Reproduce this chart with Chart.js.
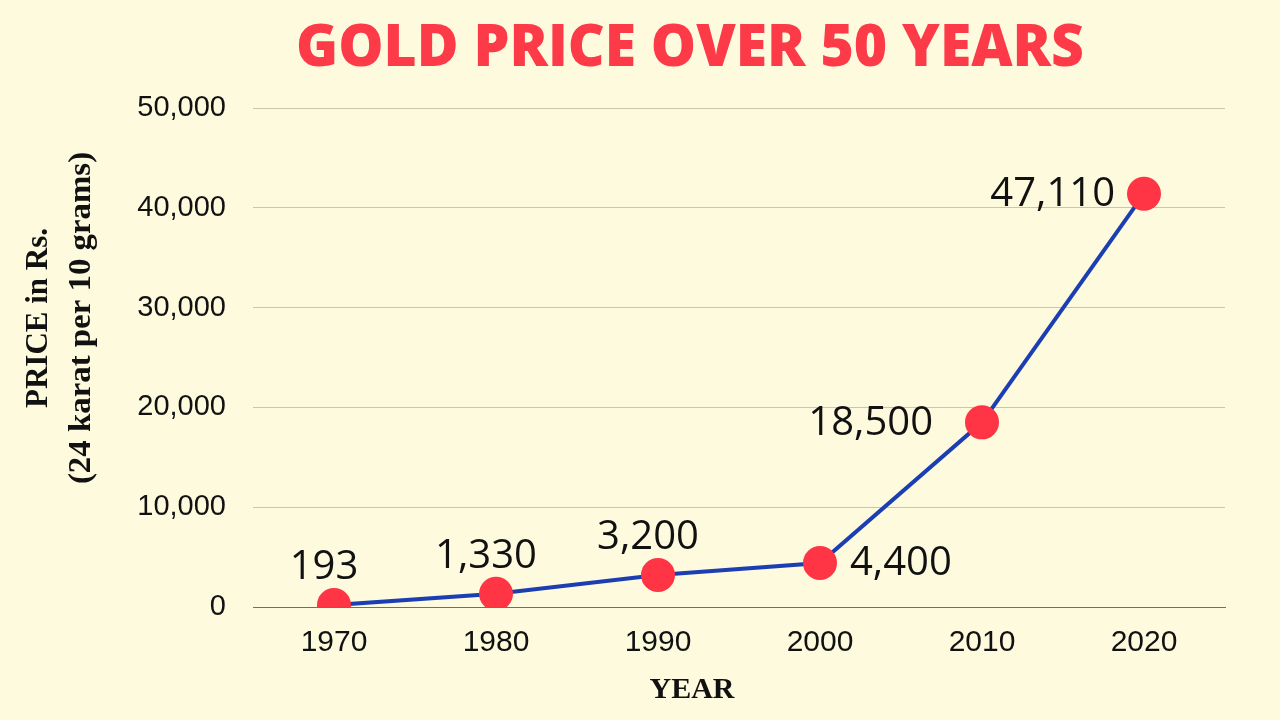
<!DOCTYPE html>
<html>
<head>
<meta charset="utf-8">
<script src="https://cdn.jsdelivr.net/npm/chart.js@4/dist/chart.umd.min.js"></script>
<style>
  html, body { margin: 0; padding: 0; background: #FEFADE; }
  #wrap { width: 1280px; height: 720px; }
</style>
</head>
<body>
<div id="wrap"><canvas id="c" width="1280" height="720"></canvas></div>
<script>
// ---- data ----
const years = ['1970', '1980', '1990', '2000', '2010', '2020'];
const prices = [193, 1330, 3200, 4400, 18500, 41400];
const priceLabels = ['193', '1,330', '3,200', '4,400', '18,500', '47,110'];
const labelSides = ['top', 'top', 'top', 'right', 'left', 'left'];
const yTicks = [0, 10000, 20000, 30000, 40000, 50000];
const chartTitle = 'GOLD PRICE OVER 50 YEARS';
const yTitleLines = ['PRICE in Rs.', '(24 karat per 10 grams)'];
const xTitle = 'YEAR';

// label spacing from marker (style)
const labelGaps = [37, 37, 37, 30, 49, 29];

const decorPlugin = {
  id: 'decor',
  afterDraw(chart) {
    const ctx = chart.ctx;
    // title (condensed look)
    ctx.save();
    ctx.font = '800 58px "Open Sans"';
    ctx.fillStyle = '#FD3A48';
    ctx.textAlign = 'center';
    ctx.textBaseline = 'middle';
    const w = ctx.measureText(chartTitle).width;
    const sx = 788 / w;
    ctx.translate(690, 49);
    ctx.scale(sx, 1);
    ctx.fillText(chartTitle, 0, 0);
    ctx.restore();

    // y title
    ctx.save();
    ctx.font = 'bold 31px "Liberation Serif"';
    ctx.fillStyle = '#111111';
    ctx.textAlign = 'center';
    ctx.textBaseline = 'middle';
    ctx.translate(39, 318);
    ctx.rotate(-Math.PI / 2);
    ctx.fillText(yTitleLines[0], 0, 0);
    ctx.save();
    ctx.scale(1.06, 1);
    ctx.fillText(yTitleLines[1], 0, 43);
    ctx.restore();
    ctx.restore();

    // x title
    ctx.save();
    ctx.font = 'bold 30px "Liberation Serif"';
    ctx.fillStyle = '#111111';
    ctx.textAlign = 'center';
    ctx.textBaseline = 'middle';
    ctx.fillText(xTitle, 692, 690);
    ctx.restore();
  },
  afterDatasetsDraw(chart) {
    const ctx = chart.ctx;
    const meta = chart.getDatasetMeta(0);
    ctx.save();
    ctx.font = '40px "Open Sans"';
    ctx.fillStyle = '#111111';
    ctx.textBaseline = 'middle';
    meta.data.forEach((pt, i) => {
      const side = labelSides[i];
      const txt = priceLabels[i];
      const gap = labelGaps[i];
      if (side === 'top') {
        ctx.textAlign = 'center';
        ctx.fillText(txt, pt.x - 10, pt.y - gap);
      } else if (side === 'right') {
        ctx.textAlign = 'left';
        ctx.fillText(txt, pt.x + gap, pt.y + 1);
      } else {
        ctx.textAlign = 'right';
        ctx.fillText(txt, pt.x - gap, pt.y + 1);
      }
    });
    ctx.restore();
  }
};

new Chart(document.getElementById('c'), {
  type: 'line',
  data: {
    labels: years,
    datasets: [{
      data: prices,
      borderColor: '#1B3FB2',
      borderWidth: 4,
      backgroundColor: '#FF3545',
      pointBackgroundColor: '#FF3545',
      pointBorderColor: '#FF3545',
      pointRadius: 15,
      pointHoverRadius: 15,
      tension: 0,
      fill: false
    }]
  },
  options: {
    responsive: false,
    animation: false,
    layout: { padding: { top: 108, right: 55, left: 0, bottom: 0 } },
    plugins: {
      legend: { display: false },
      tooltip: { enabled: false },
      title: { display: false }
    },
    scales: {
      x: {
        offset: true,
        grid: { display: false, drawTicks: false },
        border: { display: true, color: '#707068', width: 1 },
        ticks: {
          color: '#111111',
          font: { family: '"Liberation Sans"', size: 30 },
          padding: 18,
          maxRotation: 0
        },
        afterFit(scale) { scale.height = 113; }
      },
      y: {
        min: 0,
        max: 50000,
        afterBuildTicks(scale) { scale.ticks = yTicks.map(v => ({ value: v })); },
        grid: {
          drawTicks: false,
          color: (c) => c.tick && c.tick.value === 0 ? '#707068' : '#CBC6AA',
          lineWidth: 1
        },
        border: { display: false },
        ticks: {
          color: '#111111',
          font: { family: '"Liberation Sans"', size: 29 },
          padding: 27,
          callback: (v) => v.toLocaleString('en-US')
        },
        afterFit(scale) { scale.width = 253; }
      }
    }
  },
  plugins: [decorPlugin]
});
</script>
</body>
</html>
